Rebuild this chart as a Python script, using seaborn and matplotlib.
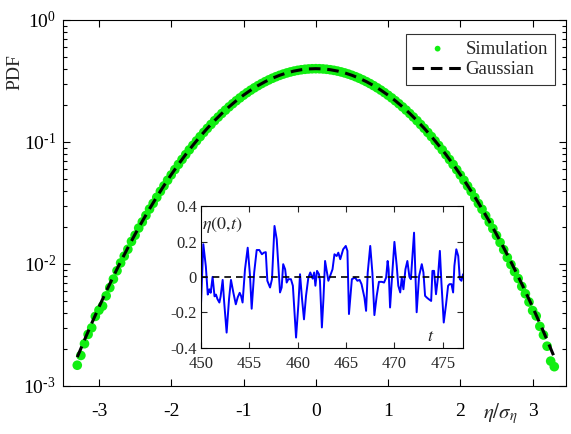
import matplotlib
matplotlib.use('Agg')
import matplotlib.pyplot as plt
import seaborn as sns

# simulated PDF of eta/sigma_eta
sim_x = [-3.30, -3.25, -3.20, -3.15, -3.10, -3.05, -3.00, -2.95, -2.90, -2.85,
         -2.80, -2.75, -2.70, -2.65, -2.60, -2.55, -2.50, -2.45, -2.40, -2.35,
         -2.30, -2.25, -2.20, -2.15, -2.10, -2.05, -2.00, -1.95, -1.90, -1.85,
         -1.80, -1.75, -1.70, -1.65, -1.60, -1.55, -1.50, -1.45, -1.40, -1.35,
         -1.30, -1.25, -1.20, -1.15, -1.10, -1.05, -1.00, -0.95, -0.90, -0.85,
         -0.80, -0.75, -0.70, -0.65, -0.60, -0.55, -0.50, -0.45, -0.40, -0.35,
         -0.30, -0.25, -0.20, -0.15, -0.10, -0.05, 0.00, 0.05, 0.10, 0.15,
         0.20, 0.25, 0.30, 0.35, 0.40, 0.45, 0.50, 0.55, 0.60, 0.65,
         0.70, 0.75, 0.80, 0.85, 0.90, 0.95, 1.00, 1.05, 1.10, 1.15,
         1.20, 1.25, 1.30, 1.35, 1.40, 1.45, 1.50, 1.55, 1.60, 1.65,
         1.70, 1.75, 1.80, 1.85, 1.90, 1.95, 2.00, 2.05, 2.10, 2.15,
         2.20, 2.25, 2.30, 2.35, 2.40, 2.45, 2.50, 2.55, 2.60, 2.65,
         2.70, 2.75, 2.80, 2.85, 2.90, 2.95, 3.00, 3.05, 3.10, 3.15,
         3.20, 3.25, 3.30]
sim_pdf = [0.00148, 0.00178, 0.00222, 0.00265, 0.00300, 0.00372, 0.00418, 0.00452, 0.00548, 0.00640,
           0.00752, 0.00880, 0.0102, 0.0116, 0.0132, 0.0153, 0.0172, 0.0197, 0.0221, 0.0250,
           0.0282, 0.0314, 0.0352, 0.0394, 0.0437, 0.0486, 0.0537, 0.0594, 0.0655, 0.0719,
           0.0788, 0.0862, 0.0938, 0.1021, 0.1106, 0.1198, 0.1293, 0.1392, 0.1496, 0.1601,
           0.1712, 0.1823, 0.1940, 0.2057, 0.2176, 0.2296, 0.2418, 0.2538, 0.2659, 0.2777,
           0.2894, 0.3009, 0.3120, 0.3227, 0.3330, 0.3427, 0.3518, 0.3603, 0.3680, 0.3750,
           0.3811, 0.3864, 0.3908, 0.3942, 0.3967, 0.3982, 0.3987, 0.3983, 0.3968, 0.3943,
           0.3909, 0.3865, 0.3812, 0.3751, 0.3681, 0.3604, 0.3519, 0.3428, 0.3331, 0.3228,
           0.3121, 0.3010, 0.2895, 0.2778, 0.2660, 0.2539, 0.2417, 0.2297, 0.2177, 0.2058,
           0.1939, 0.1824, 0.1711, 0.1602, 0.1495, 0.1391, 0.1294, 0.1197, 0.1107, 0.1020,
           0.0937, 0.0861, 0.0787, 0.0718, 0.0654, 0.0593, 0.0536, 0.0485, 0.0436, 0.0393,
           0.0351, 0.0313, 0.0281, 0.0249, 0.0220, 0.0195, 0.0171, 0.0150, 0.0131, 0.0113,
           0.0099, 0.00865, 0.00760, 0.00655, 0.00570, 0.00488, 0.00415, 0.00375, 0.00308, 0.00262,
           0.00212, 0.00160, 0.00144]

# Gaussian reference curve
gauss_x = [-3.3, -3.2, -3.1, -3.0, -2.9, -2.8, -2.7, -2.6, -2.5, -2.4, -2.3, -2.2,
           -2.1, -2.0, -1.9, -1.8, -1.7, -1.6, -1.5, -1.4, -1.3, -1.2, -1.1, -1.0,
           -0.9, -0.8, -0.7, -0.6, -0.5, -0.4, -0.3, -0.2, -0.1, 0.0, 0.1, 0.2,
           0.3, 0.4, 0.5, 0.6, 0.7, 0.8, 0.9, 1.0, 1.1, 1.2, 1.3, 1.4,
           1.5, 1.6, 1.7, 1.8, 1.9, 2.0, 2.1, 2.2, 2.3, 2.4, 2.5, 2.6,
           2.7, 2.8, 2.9, 3.0, 3.1, 3.2, 3.3]
gauss_pdf = [0.001723, 0.002384, 0.003267, 0.004432, 0.005953, 0.007915, 0.010421, 0.013583,
             0.017528, 0.022395, 0.028327, 0.035475, 0.043984, 0.053991, 0.065616, 0.078950,
             0.094049, 0.110921, 0.129518, 0.149727, 0.171369, 0.194186, 0.217852, 0.241971,
             0.266085, 0.289692, 0.312254, 0.333225, 0.352065, 0.368270, 0.381388, 0.391043,
             0.396953, 0.398942, 0.396953, 0.391043, 0.381388, 0.368270, 0.352065, 0.333225,
             0.312254, 0.289692, 0.266085, 0.241971, 0.217852, 0.194186, 0.171369, 0.149727,
             0.129518, 0.110921, 0.094049, 0.078950, 0.065616, 0.053991, 0.043984, 0.035475,
             0.028327, 0.022395, 0.017528, 0.013583, 0.010421, 0.007915, 0.005953, 0.004432,
             0.003267, 0.002384, 0.001723]

# time series eta(0,t) for the inset
t = [450.0, 450.24, 450.5, 450.7, 450.86, 451.0, 451.2, 451.4, 451.55, 451.7,
     451.9, 452.03, 452.24, 452.4, 452.65, 452.9, 453.1, 453.35, 453.6, 453.8,
     454.0, 454.14, 454.3, 454.55, 454.83, 455.07, 455.24, 455.5, 455.76, 456.03,
     456.3, 456.5, 456.7, 456.86, 457.14, 457.34, 457.6, 457.83, 458.07, 458.17,
     458.34, 458.5, 458.7, 458.86, 459.03, 459.3, 459.5, 459.83, 460.07, 460.24,
     460.45, 460.65, 460.86, 461.1, 461.3, 461.55, 461.7, 461.83, 462.0, 462.2,
     462.3, 462.5, 462.66, 462.83, 463.0, 463.17, 463.35, 463.6, 463.8, 464.03,
     464.2, 464.4, 464.55, 464.7, 464.97, 465.14, 465.3, 465.6, 465.93, 466.17,
     466.4, 466.6, 466.9, 467.07, 467.24, 467.5, 467.72, 467.93, 468.17, 468.4,
     468.7, 468.93, 469.14, 469.3, 469.4, 469.55, 469.76, 470.0, 470.24, 470.4,
     470.6, 470.76, 470.93, 471.14, 471.34, 471.55, 471.7, 472.03, 472.3, 472.55,
     472.83, 473.0, 473.17, 473.35, 473.55, 473.8, 473.93, 474.1, 474.3, 474.5,
     474.7, 474.86, 475.1, 475.34, 475.55, 475.7, 475.9, 476.07, 476.2, 476.4,
     476.6, 476.76, 476.93, 477.1]
eta = [-0.155, 0.185, 0.06, -0.10, -0.07, -0.09, 0.0, -0.11, -0.10, -0.125,
       -0.145, -0.11, -0.017, -0.145, -0.315, -0.125, -0.017, -0.09, -0.155, -0.115,
       -0.09, -0.107, -0.145, 0.043, 0.165, 0.005, -0.18, 0.025, 0.152, 0.152,
       0.128, 0.137, 0.14, -0.022, -0.06, -0.013, 0.288, 0.213, 0.005, -0.088,
       -0.06, 0.072, 0.043, -0.032, -0.013, -0.013, -0.05, -0.343, -0.155, 0.015,
       -0.126, -0.24, -0.107, -0.004, 0.025, -0.01, 0.025, -0.05, 0.034, 0.015,
       -0.022, -0.286, -0.126, 0.09, 0.034, -0.022, 0.005, 0.043, 0.128, 0.118,
       0.137, 0.10, 0.128, 0.156, 0.175, 0.147, -0.21, -0.013, -0.004, -0.022,
       -0.017, -0.041, -0.117, -0.192, 0.025, 0.175, 0.025, -0.216, -0.107, -0.028,
       -0.028, -0.032, -0.004, 0.09, 0.043, -0.173, 0.005, 0.198, 0.062, -0.05,
       -0.088, -0.004, -0.07, 0.043, 0.09, 0.0, -0.013, 0.25, -0.20, 0.005,
       0.072, 0.025, -0.107, -0.117, -0.126, -0.136, 0.034, 0.034, -0.098, -0.004,
       0.147, -0.032, -0.258, -0.155, -0.05, -0.041, -0.041, -0.088, 0.062, 0.156,
       0.118, -0.013, -0.022, 0.015]

main_xticks = [-3, -2, -1, 0, 1, 2, 3]
main_yticks = [1e-3, 1e-2, 1e-1, 1]
main_yticklabels = ['$10^{\\text{-}3}$', '$10^{\\text{-}2}$', '$10^{\\text{-}1}$', '$10^{0}$']
inset_xticks = [450, 455, 460, 465, 470, 475]
inset_yticks = [-0.4, -0.2, 0, 0.2, 0.4]
inset_yticklabels = ['-0.4', '-0.2', '0', '0.2', '0.4']

sns.set_style('ticks')
plt.rcParams['font.family'] = ['Liberation Serif', 'DejaVu Serif']
plt.rcParams['mathtext.fontset'] = 'custom'
plt.rcParams['mathtext.rm'] = 'Liberation Serif'
plt.rcParams['mathtext.it'] = 'Liberation Serif:italic'
plt.rcParams['axes.unicode_minus'] = False
plt.rcParams['axes.linewidth'] = 0.8
plt.rcParams['axes.edgecolor'] = 'black'

fig = plt.figure(figsize=(5.71, 4.34), dpi=100)
ax = fig.add_axes([0.110, 0.1106, 0.881, 0.8434])

sns.scatterplot(x=sim_x, y=sim_pdf, ax=ax, color='#11ee11', s=48,
                edgecolor='none', label='Simulation', zorder=2)
sns.lineplot(x=gauss_x, y=gauss_pdf, ax=ax, color='black', lw=2.2,
             linestyle=(0, (3.8, 2.2)), label='Gaussian', zorder=3)

ax.set_yscale('log')
ax.set_ylim(1e-3, 1)
ax.set_xlim(-3.5, 3.46)
ax.set_xticks(main_xticks)
ax.set_xticklabels([str(v) for v in main_xticks])
ax.set_yticks(main_yticks)
ax.set_yticklabels(main_yticklabels)
ax.tick_params(which='both', direction='in', top=True, right=True, labelsize=14,
               width=0.8, colors='black')
ax.tick_params(which='major', length=5)
ax.tick_params(which='minor', length=3)
ax.tick_params(axis='x', pad=12)
ax.tick_params(axis='y', pad=5)
ax.set_ylabel('PDF', fontsize=14)
ax.yaxis.set_label_coords(-0.078, 0.858)
ax.set_xlabel('')
ax.text(2.55, -0.075, r'$\eta/\sigma_\eta$', transform=ax.get_xaxis_transform(),
        fontsize=15, ha='center', va='center', math_fontfamily='stix')

leg = ax.legend(loc='upper right', bbox_to_anchor=(0.978, 0.962), borderaxespad=0,
                fontsize=13.5, frameon=True, fancybox=False, edgecolor='black',
                handlelength=2.7, handletextpad=0.15, borderpad=0.35,
                labelspacing=0.2, markerscale=0.6)
leg.get_frame().set_linewidth(0.8)

ins = fig.add_axes([0.352, 0.199, 0.459, 0.326])
sns.lineplot(x=t, y=eta, ax=ins, color='#0000ff', lw=1.4, sort=False, estimator=None)
ins.axhline(0, color='black', lw=1.2, linestyle=(0, (4, 3)))
ins.set_xlim(450, 477.1)
ins.set_ylim(-0.4, 0.4)
ins.set_xticks(inset_xticks)
ins.set_yticks(inset_yticks)
ins.set_yticklabels(inset_yticklabels)
ins.tick_params(direction='in', top=True, right=True, labelsize=12, length=4,
                width=0.8, pad=3)
ins.tick_params(axis='x', pad=6)
ins.text(0.08, 0.865, r'$\eta(0{,}t)$', transform=ins.transAxes, fontsize=13,
         ha='center', va='center', math_fontfamily='stix')
ins.text(473.7, -0.335, r'$t$', fontsize=13, ha='center', va='center',
         math_fontfamily='stix')

fig.savefig('out.png', dpi=100)
